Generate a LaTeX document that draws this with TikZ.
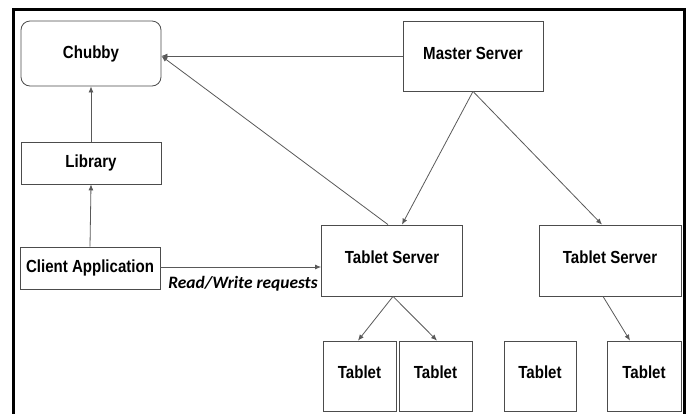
\documentclass[tikz,border=0pt]{standalone}
\usepackage{fontspec}
\setmainfont{Liberation Sans}
\newfontfamily\boxfont[FakeStretch=0.86]{Liberation Sans}
\newfontfamily\notefont{Carlito}
\usetikzlibrary{arrows.meta}
\tikzset{
	unit/.style={draw=black!70, line width=0.8pt, fill=white, inner sep=0pt,
		font=\boxfont\fontsize{17.5}{19}\selectfont\bfseries},
	link/.style={draw=black!65, line width=0.8pt, -{Latex[length=6pt,width=5pt]}}
}
\begin{document}
\begin{tikzpicture}[x=1pt,y=-1pt]
			\useasboundingbox (0,0) rectangle (693,413);
			\draw [line width=3pt] (13,420) -- (13,9) -- (684,9) -- (684,420);
			\node [unit, rounded corners=9pt, minimum width=140pt, minimum height=65pt] (chubby) at (91,53.5) {Chubby};
			\node [unit, minimum width=140pt, minimum height=42pt] (library) at (91,163) {Library};
			\node [unit, minimum width=140pt, minimum height=42pt] (client) at (90,268) {Client Application};
			\node [unit, text depth=5pt, minimum width=140pt, minimum height=70pt] (master) at (473,56) {Master Server};
			\node [unit, text depth=6pt, minimum width=141pt, minimum height=71pt] (ts1) at (392,260.5) {Tablet Server};
			\node [unit, text depth=6pt, minimum width=142pt, minimum height=71pt] (ts2) at (610,260.5) {Tablet Server};
			\node [unit, text depth=8pt, minimum width=73pt, minimum height=70pt] (tab1) at (359.5,376) {Tablet};
			\node [unit, text depth=8pt, minimum width=73pt, minimum height=70pt] (tab2) at (435.5,376) {Tablet};
			\node [unit, text depth=8pt, minimum width=72pt, minimum height=70pt] (tab3) at (540,376) {Tablet};
			\node [unit, text depth=8pt, minimum width=74pt, minimum height=70pt] (tab4) at (644,376) {Tablet};
			\coordinate (chubbyin) at (master.west -| chubby.east);
			\coordinate (clientout) at ([yshift=1pt]client.east);
			\draw [link] (library.north) -- (chubby.south);
			\draw [link] (client.north) -- (library.south);
			\draw [link] (master.west) -- (chubbyin);
			\draw [link] ([xshift=-4pt]ts1.north) -- (chubbyin);
			\draw [link] (master.south) -- ([xshift=10pt]ts1.north);
			\draw [link] (master.south) -- ([xshift=-8pt]ts2.north);
			\draw [link] (clientout) -- (clientout -| ts1.west);
			\node [font=\notefont\fontsize{17.4}{19}\selectfont\bfseries\itshape] (rw) at (243,284) {Read/Write requests};
			\draw [link] ([xshift=1pt]ts1.south) -- ([xshift=-1.5pt]tab1.north);
			\draw [link] ([xshift=1pt]ts1.south) -- ([xshift=1.5pt]tab2.north);
			\draw [link] ([xshift=-7pt]ts2.south) -- ([xshift=-14pt]tab4.north);
		\end{tikzpicture}
\end{document}
